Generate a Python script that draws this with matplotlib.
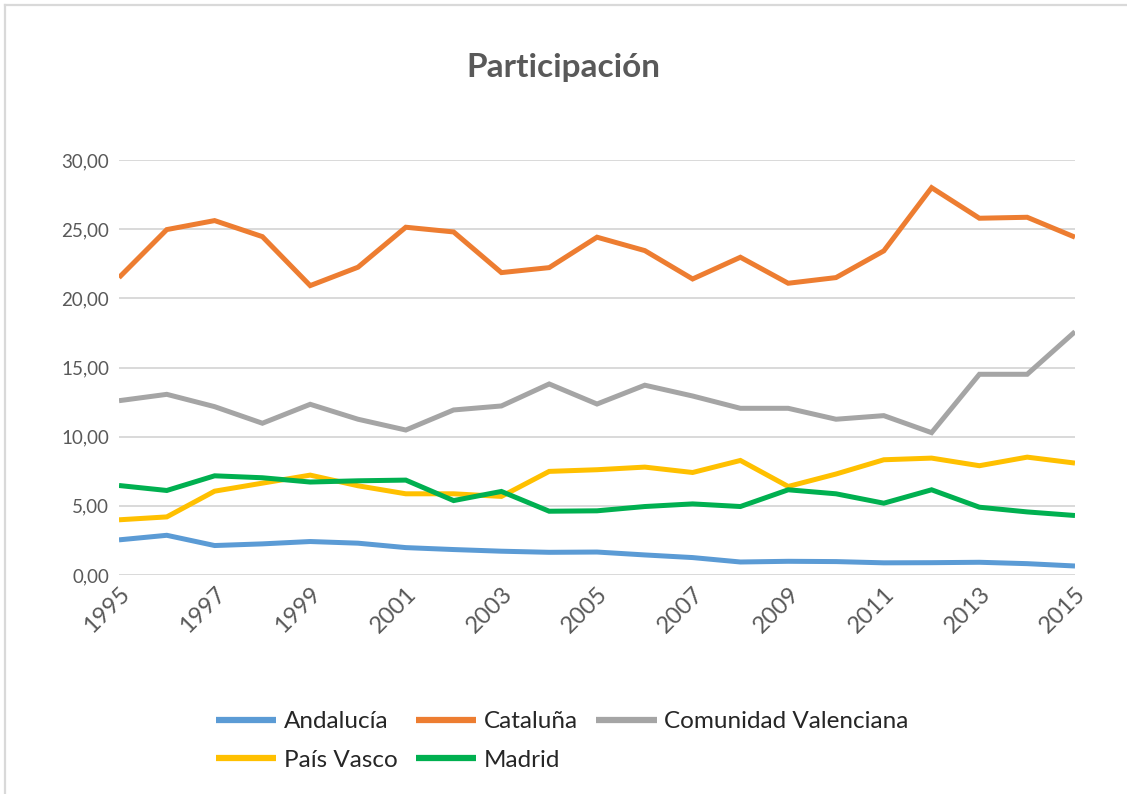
import matplotlib
matplotlib.use("Agg")
import matplotlib.pyplot as plt
from matplotlib.lines import Line2D

years = list(range(1995, 2016))
andalucia = [2.54, 2.87, 2.13, 2.25, 2.42, 2.30, 1.98, 1.84, 1.72, 1.64, 1.66,
             1.45, 1.26, 0.94, 0.99, 0.97, 0.88, 0.89, 0.92, 0.82, 0.65]
cataluna = [21.5, 24.97, 25.62, 24.46, 20.92, 22.25, 25.14, 24.8, 21.86, 22.22, 24.42,
            23.45, 21.4, 22.97, 21.09, 21.5, 23.43, 28.0, 25.79, 25.86, 24.42]
valenciana = [12.6, 13.06, 12.17, 10.97, 12.34, 11.26, 10.48, 11.93, 12.22, 13.81, 12.36,
              13.72, 12.94, 12.05, 12.05, 11.26, 11.52, 10.29, 14.51, 14.51, 17.59]
pais_vasco = [3.99, 4.2, 6.06, 6.64, 7.22, 6.45, 5.87, 5.87, 5.68, 7.49, 7.61,
              7.8, 7.41, 8.28, 6.4, 7.3, 8.33, 8.45, 7.9, 8.52, 8.09]
madrid = [6.47, 6.11, 7.17, 7.03, 6.72, 6.81, 6.86, 5.38, 6.04, 4.61, 4.64,
          4.95, 5.14, 4.95, 6.16, 5.87, 5.19, 6.16, 4.9, 4.56, 4.3]

series_names = ["Andalucía", "Cataluña", "Comunidad Valenciana", "País Vasco", "Madrid"]
series_values = [andalucia, cataluna, valenciana, pais_vasco, madrid]
colors = ["#5B9BD5", "#ED7D31", "#A5A5A5", "#FFC000", "#00B050"]
yticks = [0, 5, 10, 15, 20, 25, 30]
ytick_labels = ["0,00", "5,00", "10,00", "15,00", "20,00", "25,00", "30,00"]
xticks = list(range(1995, 2016, 2))

plt.rcParams['font.family'] = ['Lato', 'DejaVu Sans']

W, H = 1127, 794
fig = plt.figure(figsize=(W / 100, H / 100), dpi=100)
fig.patch.set_facecolor("white")

# chart border (left and top visible)
fig.add_artist(Line2D([5 / W, 5 / W], [0, 1 - 5 / H], transform=fig.transFigure,
                      color="#D9D9D9", lw=1.6))
fig.add_artist(Line2D([5 / W, 1], [1 - 5 / H, 1 - 5 / H], transform=fig.transFigure,
                      color="#D9D9D9", lw=1.6))

ax = fig.add_axes([119 / W, 1 - 575 / H, (1075 - 119) / W, (575 - 160) / H])
handles = []
for name, vals, c in zip(series_names, series_values, colors):
    h, = ax.plot(years, vals, color=c, lw=3.6, label=name,
                 solid_capstyle="butt", solid_joinstyle="miter", zorder=3)
    handles.append(h)

ax.set_xlim(1995, 2015)
ax.set_ylim(0, 30)
ax.set_yticks(yticks)
ax.set_yticklabels(ytick_labels)
ax.set_xticks(xticks)
ax.set_xticklabels([str(x) for x in xticks], rotation=45, ha="right", va="top",
                   rotation_mode="anchor")
for s in ax.spines.values():
    s.set_visible(False)
ax.grid(axis="y", color="#D9D9D9", lw=1.4, zorder=0)
ax.tick_params(axis="both", length=0, labelsize=13.5, colors="#595959")
ax.tick_params(axis="y", pad=7)
ax.tick_params(axis="x", pad=6)
for lbl in ax.get_xticklabels():
    lbl.set_fontsize(17)

fig.text(0.5, 1 - 67 / H, "Participación", ha="center", va="center",
         fontsize=24, fontweight="bold", color="#595959")

order = [0, 3, 1, 4, 2]
leg = fig.legend([handles[i] for i in order], [series_names[i] for i in order],
                 ncol=3, loc="center", bbox_to_anchor=(562 / W, 1 - 741 / H),
                 frameon=False, fontsize=17.5, handlelength=2.5, handletextpad=0.3,
                 columnspacing=0.75, labelspacing=0.72)
for t in leg.get_texts():
    t.set_color("#262626")
for l in leg.get_lines():
    l.set_linewidth(4.5)

fig.savefig("out.png", dpi=100)
